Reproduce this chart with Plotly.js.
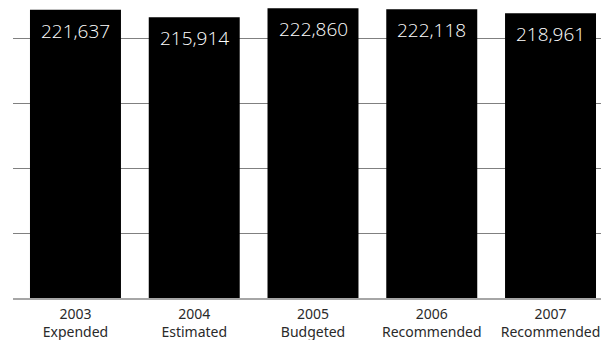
<!DOCTYPE html>
<html>
<head>
<meta charset="utf-8">
<script src="https://cdn.plot.ly/plotly-3.0.1.min.js"></script>
<style>
  html, body { margin: 0; padding: 0; background: #ffffff; }
  #chart { width: 601px; height: 340px; }
</style>
</head>
<body>
<div id="chart"></div>
<script>
// Fiscal years and their budget status
const years = ['2003', '2004', '2005', '2006', '2007'];
const statuses = ['Expended', 'Estimated', 'Budgeted', 'Recommended', 'Recommended'];
// Totals per year
const totals = [221637, 215914, 222860, 222118, 218961];

const categories = years.map((y, i) => y + '<br>' + statuses[i]);
const fmt = v => v.toLocaleString('en-US');

const trace = {
  type: 'bar',
  x: categories,
  y: totals,
  marker: { color: '#000000', line: { width: 0 } },
  hoverinfo: 'none'
};

// Value labels sit just inside the top of each bar
const annotations = totals.map((v, i) => ({
  x: categories[i],
  y: v,
  xref: 'x',
  yref: 'y',
  yanchor: 'top',
  yshift: -6,
  text: fmt(v),
  showarrow: false,
  font: { family: 'Open Sans, sans-serif', size: 19, weight: 300, color: '#ffffff' }
}));

const layout = {
  width: 601,
  height: 340,
  margin: { l: 13, r: 0, t: 0, b: 42 },
  paper_bgcolor: '#ffffff',
  plot_bgcolor: '#ffffff',
  bargap: 0.234,
  showlegend: false,
  xaxis: {
    type: 'category',
    range: [-0.526, 4.425],
    showgrid: false,
    showline: true,
    linecolor: '#a6a6a6',
    linewidth: 2,
    ticks: '',
    ticklabelstandoff: 2,
    tickfont: { family: 'Noto Sans, sans-serif', size: 14, color: '#2a2a2a' },
    fixedrange: true
  },
  yaxis: {
    range: [0, 229231],
    dtick: 50000,
    showgrid: true,
    gridcolor: '#808080',
    gridwidth: 1,
    zeroline: false,
    showticklabels: false,
    ticks: '',
    fixedrange: true
  },
  annotations: annotations
};

Plotly.newPlot('chart', [trace], layout, { displayModeBar: false, staticPlot: true });
</script>
</body>
</html>
